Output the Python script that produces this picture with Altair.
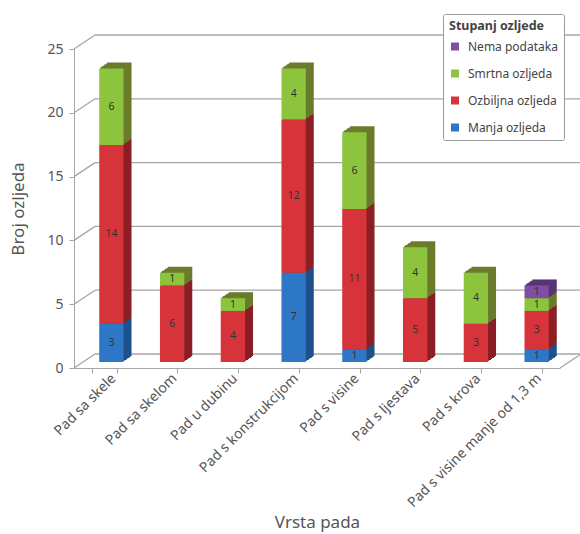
import altair as alt
import pandas as pd

categories = ["Pad sa skele", "Pad sa skelom", "Pad u dubinu", "Pad s konstrukcijom",
              "Pad s visine", "Pad s ljestava", "Pad s krova", "Pad s visine manje od 1,3 m"]
manja = [3, 0, 0, 7, 1, 0, 0, 1]
ozbiljna = [14, 6, 4, 12, 11, 5, 3, 3]
smrtna = [6, 1, 1, 4, 6, 4, 4, 1]
nema = [0, 0, 0, 0, 0, 0, 0, 1]
series = ["Manja ozljeda", "Ozbiljna ozljeda", "Smrtna ozljeda", "Nema podataka"]
colors = ["#2d77c6", "#d7333b", "#8cc43e", "#7d4ea3"]
dark = ["#1f528c", "#8c1f25", "#6b7c2c", "#573572"]
y_ticks = [0, 5, 10, 15, 20, 25]

W, H = 486, 319
DX, DY = 21, -14  # depth of back wall

rows = []
for si, vals in enumerate([manja, ozbiljna, smrtna, nema]):
    for c, v in zip(categories, vals):
        if v > 0:
            rows.append({"cat": c, "series": series[si], "value": v, "order": si})
df = pd.DataFrame(rows)
grid_df = pd.DataFrame({"v": y_ticks})

FONT = "Noto Sans"
yscale = alt.Scale(domain=[0, 25], nice=False)
xscale = alt.Scale(domain=categories, paddingInner=0.6, paddingOuter=0.3)

base = alt.Chart(df).transform_stack(
    stack="value", groupby=["cat"], as_=["v0", "v1"], sort=[alt.SortField("order")]
).transform_calculate(mid="(datum.v0 + datum.v1) / 2")

x_axis = alt.Axis(title="Vrsta pada", labelAngle=315, tickBand="extent",
                  labelFontSize=14, labelColor="#555", labelFont=FONT,
                  labelAlign="right", labelBaseline="middle", labelLimit=400,
                  labelOffset=9, labelPadding=3,
                  domainColor="#a6a6a6", tickColor="#a6a6a6", tickSize=5,
                  titleFontSize=17, titleFontWeight="normal", titleColor="#555",
                  titleFont=FONT, titleY=154, titleBaseline="middle")
y_axis = alt.Axis(values=y_ticks, title="Broj ozljeda", grid=False,
                  labelFontSize=14, labelColor="#555", labelFont=FONT,
                  domainColor="#a6a6a6", tickColor="#a6a6a6", tickSize=5,
                  labelPadding=6, titleFontSize=17, titleFontWeight="normal",
                  titleColor="#555", titleFont=FONT, titlePadding=19)

back_lines = alt.Chart(grid_df).mark_rule(
    color="#a6a6a6", strokeWidth=1.3, yOffset=DY, y2Offset=DY
).encode(y=alt.Y("v:Q", scale=yscale, axis=y_axis), y2="v:Q",
         x=alt.value(DX), x2=alt.value(W + DX))

diag = alt.Chart(grid_df).mark_rule(
    color="#a6a6a6", strokeWidth=1.3, y2Offset=DY
).encode(y=alt.Y("v:Q", scale=yscale), y2="v:Q",
         x=alt.value(0), x2=alt.value(DX))

floor_edge = alt.Chart(grid_df).transform_filter("datum.v == 0").mark_rule(
    color="#a6a6a6", strokeWidth=1.3, y2Offset=DY
).encode(y=alt.Y("v:Q", scale=yscale), y2="v:Q",
         x=alt.value(W), x2=alt.value(W + DX))

shadows = []
for k in range(8, 0, -1):
    ox = 7 + k
    oy = -6 - round(0.75 * k)
    shadows.append(base.mark_bar(xOffset=ox, x2Offset=ox, yOffset=oy, y2Offset=oy).encode(
        x=alt.X("cat:N", scale=xscale, sort=categories, axis=x_axis),
        y=alt.Y("v0:Q", scale=yscale), y2="v1:Q",
        color=alt.Color("series:N", scale=alt.Scale(domain=series, range=dark), legend=None),
    ))

front = base.mark_bar(xOffset=7, x2Offset=7, yOffset=-6, y2Offset=-6).encode(
    x=alt.X("cat:N", scale=xscale, sort=categories),
    y=alt.Y("v0:Q", scale=yscale), y2="v1:Q",
    fill=alt.Fill("series:N",
                  scale=alt.Scale(domain=series[::-1], range=colors[::-1]),
                  legend=alt.Legend(orient="none", legendX=369, legendY=-35,
                                    title="Stupanj ozljede", titleFontSize=12.5,
                                    titleFontWeight="bold", titleColor="#444", titleFont=FONT,
                                    labelFontSize=12, labelColor="#444", labelFont=FONT,
                                    labelOffset=7,
                                    symbolType="square", symbolSize=64, symbolStrokeWidth=0,
                                    rowPadding=15, titlePadding=8, padding=6,
                                    fillColor="white", strokeColor="#9a9a9a",
                                    cornerRadius=2)),
)

labels = base.mark_text(dx=7, dy=-6, fontSize=10.5, color="#333", font=FONT).encode(
    x=alt.X("cat:N", scale=xscale, sort=categories),
    y=alt.Y("mid:Q", scale=yscale),
    text="value:Q",
)

chart = alt.layer(back_lines, diag, floor_edge, *shadows, front, labels).resolve_scale(
    color="independent"
).properties(
    width=W, height=H,
    autosize=alt.AutoSizeParams(type="none"),
    padding={"left": 74, "top": 49, "right": 20, "bottom": 166},
    background="white",
).configure_view(stroke=None)

chart.save("out.html", embed_options={"renderer": "svg", "actions": False})
